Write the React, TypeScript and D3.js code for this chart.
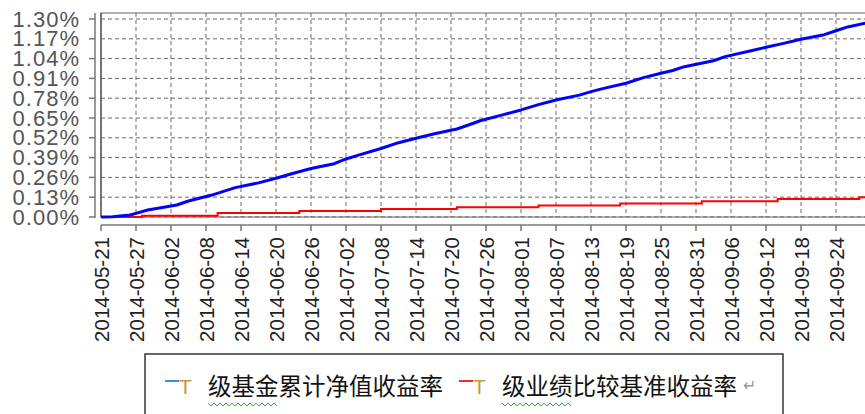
import React, { useEffect, useRef } from "react";
import * as d3 from "d3";

const navDates = ["2014-05-21","2014-05-23","2014-05-26","2014-05-27","2014-05-29","2014-06-03","2014-06-05","2014-06-09","2014-06-11","2014-06-13","2014-06-17","2014-06-20","2014-06-23","2014-06-26","2014-06-30","2014-07-02","2014-07-04","2014-07-08","2014-07-11","2014-07-14","2014-07-17","2014-07-21","2014-07-23","2014-07-25","2014-07-29","2014-08-01","2014-08-04","2014-08-07","2014-08-11","2014-08-13","2014-08-15","2014-08-19","2014-08-22","2014-08-25","2014-08-27","2014-08-29","2014-09-03","2014-09-05","2014-09-10","2014-09-12","2014-09-15","2014-09-18","2014-09-22","2014-09-24","2014-09-26","2014-09-29"];
const navValues = [0,0.002,0.013,0.024,0.046,0.079,0.105,0.144,0.168,0.193,0.224,0.254,0.287,0.318,0.35,0.381,0.405,0.45,0.488,0.517,0.545,0.578,0.604,0.632,0.672,0.703,0.738,0.768,0.8,0.823,0.843,0.878,0.915,0.944,0.962,0.987,1.026,1.053,1.097,1.114,1.14,1.167,1.197,1.223,1.248,1.272];

const benchDates = ["2014-05-21","2014-05-28","2014-06-10","2014-06-24","2014-07-08","2014-07-21","2014-08-04","2014-08-18","2014-09-01","2014-09-14","2014-09-28"];
const benchValues = [0,0.008,0.026,0.039,0.052,0.064,0.075,0.088,0.104,0.118,0.129];

const yTicks = [0,0.13,0.26,0.39,0.52,0.65,0.78,0.91,1.04,1.17,1.30];
const xTickLabels = ["2014-05-21","2014-05-27","2014-06-02","2014-06-08","2014-06-14","2014-06-20","2014-06-26","2014-07-02","2014-07-08","2014-07-14","2014-07-20","2014-07-26","2014-08-01","2014-08-07","2014-08-13","2014-08-19","2014-08-25","2014-08-31","2014-09-06","2014-09-12","2014-09-18","2014-09-24"];
const endDate = "2014-09-30";

const seriesNames = ["T 级基金累计净值收益率", "T 级业绩比较基准收益率"];

export default function App() {
  const ref = useRef<SVGSVGElement>(null);
  useEffect(() => {
    document.body.style.margin = "0";
    const svg = d3.select(ref.current);
    svg.selectAll("*").remove();
    const parse = d3.timeParse("%Y-%m-%d");
    const x = d3.scaleTime().domain([parse("2014-05-21")!, parse("2014-09-24")!]).range([101, 836]);
    const y = d3.scaleLinear().domain([0, 1.3]).range([217, 19]);
    const left = 101, right = 866, top = 13, bottom = 217;

    svg.append("rect").attr("width", 865).attr("height", 414).attr("fill", "#fff");

    // frame
    svg.append("rect").attr("x", left).attr("y", top).attr("width", right - left).attr("height", bottom - top)
      .attr("fill", "none").attr("stroke", "#9a9a9a").attr("stroke-width", 1.5);
    svg.append("line").attr("x1", left).attr("x2", left).attr("y1", top).attr("y2", bottom).attr("stroke", "#666").attr("stroke-width", 1.5);

    // gridlines
    const g = svg.append("g").attr("stroke", "#6a6a6a").attr("stroke-width", 1).attr("stroke-dasharray", "4,3");
    yTicks.forEach(v => {
      g.append("line").attr("x1", left).attr("x2", right).attr("y1", y(v)).attr("y2", y(v));
    });
    xTickLabels.forEach(d => {
      const xx = x(parse(d)!);
      g.append("line").attr("x1", xx).attr("x2", xx).attr("y1", top).attr("y2", bottom);
    });

    // left axis
    svg.append("line").attr("x1", 95).attr("x2", 95).attr("y1", top).attr("y2", bottom + 1).attr("stroke", "#777").attr("stroke-width", 1.5);
    yTicks.forEach(v => {
      svg.append("line").attr("x1", 89).attr("x2", 95).attr("y1", y(v)).attr("y2", y(v)).attr("stroke", "#777").attr("stroke-width", 1.5);
      svg.append("text").attr("x", 80).attr("y", y(v)).attr("text-anchor", "end").attr("dominant-baseline", "central")
        .attr("font-family", "'Liberation Sans', Arial, sans-serif").attr("font-size", 22).attr("letter-spacing", 1)
        .attr("fill", "#555").text(d3.format(".2f")(v) + "%");
    });

    // bottom axis
    svg.append("line").attr("x1", left).attr("x2", right).attr("y1", 225).attr("y2", 225).attr("stroke", "#777").attr("stroke-width", 1.5);
    xTickLabels.forEach(d => {
      const xx = x(parse(d)!);
      svg.append("line").attr("x1", xx).attr("x2", xx).attr("y1", 225).attr("y2", 231).attr("stroke", "#777").attr("stroke-width", 1.5);
      svg.append("text").attr("transform", `translate(${xx},237) rotate(-90)`).attr("text-anchor", "end").attr("dominant-baseline", "central")
        .attr("font-family", "'Liberation Sans', Arial, sans-serif").attr("font-size", 20.5)
        .attr("fill", "#222").text(d);
    });

    // series
    const bench = benchDates.map((d, i) => ({ d: parse(d)!, v: benchValues[i] }));
    bench.push({ d: parse(endDate)!, v: benchValues[benchValues.length - 1] });
    const nav = navDates.map((d, i) => ({ d: parse(d)!, v: navValues[i] }));
    const lineStep = d3.line<{ d: Date; v: number }>().x(p => x(p.d)).y(p => y(p.v)).curve(d3.curveStepAfter);
    const lineLin = d3.line<{ d: Date; v: number }>().x(p => x(p.d)).y(p => y(p.v));
    svg.append("path").attr("d", lineStep(bench)!).attr("fill", "none").attr("stroke", "#ff0000").attr("stroke-width", 2);
    svg.append("path").attr("d", lineLin(nav)!).attr("fill", "none").attr("stroke", "#0000ff").attr("stroke-width", 3).attr("stroke-linejoin", "round");

    // legend
    svg.append("rect").attr("x", 145).attr("y", 354).attr("width", 638).attr("height", 80).attr("fill", "#fff").attr("stroke", "#333").attr("stroke-width", 1.5);
    const items = [
      { c: "#3c8ce0", x0: 165, name: seriesNames[0] },
      { c: "#e83030", x0: 459, name: seriesNames[1] },
    ];
    items.forEach((it, i) => {
      svg.append("line").attr("x1", it.x0).attr("x2", it.x0 + 14).attr("y1", 381).attr("y2", 381).attr("stroke", it.c).attr("stroke-width", 2);
      svg.append("text").attr("x", it.x0 + 14).attr("y", 386).attr("dominant-baseline", "central")
        .attr("font-family", "'Liberation Sans', Arial, sans-serif").attr("font-size", 21).attr("fill", "#c8963e").text(it.name.slice(0, 1));
      svg.append("text").attr("x", it.x0 + 43).attr("y", 385).attr("dominant-baseline", "central")
        .attr("font-family", "'Noto Sans CJK SC', sans-serif").attr("font-size", 23.5).attr("fill", "#111").text(it.name.slice(2));
      const wx = it.x0 + 43;
      const wave = d3.range(0, 72, 3).map((dx, k) => [wx + dx, 404 + (k % 2 ? 2 : -1)] as [number, number]);
      svg.append("path").attr("d", d3.line()(wave)!).attr("fill", "none").attr("stroke", "#3aa83a").attr("stroke-width", 1);
      if (i === 1) {
        svg.append("text").attr("x", it.x0 + 43 + 238 + 3).attr("y", 385).attr("dominant-baseline", "central")
          .attr("font-family", "'DejaVu Sans', sans-serif").attr("font-size", 16).attr("fill", "#999").text("↵");
      }
    });
  }, []);
  return (
    <div style={{ position: "absolute", left: 0, top: 0 }}>
      <svg ref={ref} width={865} height={414} style={{ display: "block" }} />
    </div>
  );
}
